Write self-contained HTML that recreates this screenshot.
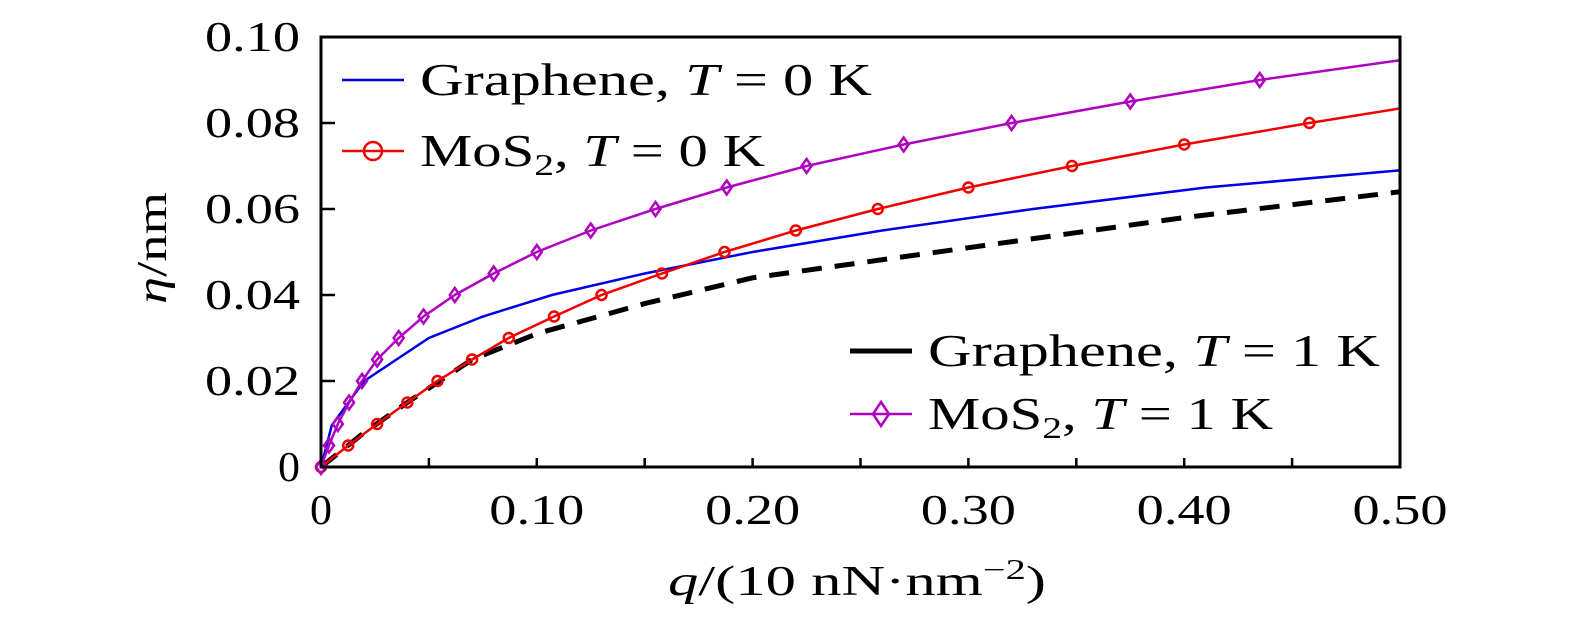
<!DOCTYPE html>
<html><head><meta charset="utf-8"><style>
html,body{margin:0;padding:0;background:#fff;}
svg text{font-family:"Liberation Serif",serif;fill:#000;}
</style></head><body>
<svg id="chart" width="1575" height="620" viewBox="0 0 1575 620" xmlns="http://www.w3.org/2000/svg">
<g id="plot"></g>
</svg>
<script>
const xTicks=[0,0.10,0.20,0.30,0.40,0.50];
const xTickLabels=["0","0.10","0.20","0.30","0.40","0.50"];
const yTicks=[0,0.02,0.04,0.06,0.08,0.10];
const yTickLabels=["0","0.02","0.04","0.06","0.08","0.10"];
const grapheneT0Q=[0,0.005,0.02,0.035,0.05,0.075,0.107,0.15,0.2,0.26,0.33,0.41,0.5];
const grapheneT0Eta=[0,0.0097,0.02,0.025,0.03,0.035,0.04,0.045,0.05,0.055,0.06,0.065,0.069];
const grapheneT1Q=[0,0.02,0.04,0.07,0.1,0.15,0.2,0.3,0.4,0.5];
const grapheneT1Eta=[0,0.008,0.015,0.025,0.031,0.038,0.044,0.051,0.058,0.064];
const mos2T0Q=[0,0.0126,0.026,0.04,0.054,0.07,0.087,0.108,0.13,0.158,0.187,0.22,0.258,0.3,0.348,0.4,0.458,0.5];
const mos2T0Eta=[0,0.005,0.01,0.015,0.02,0.025,0.03,0.035,0.04,0.045,0.05,0.055,0.06,0.065,0.07,0.075,0.08,0.0834];
const mos2T1Q=[0,0.0037,0.0078,0.013,0.019,0.026,0.036,0.0475,0.062,0.08,0.1,0.125,0.155,0.188,0.225,0.27,0.32,0.375,0.435,0.5];
const mos2T1Eta=[0,0.005,0.01,0.015,0.02,0.025,0.03,0.035,0.04,0.045,0.05,0.055,0.06,0.065,0.07,0.075,0.08,0.085,0.09,0.0946];

const NS="http://www.w3.org/2000/svg";
const X0=321,X1=1400,Y0=467,Y1=37;
const sx=v=>X0+(v/0.5)*(X1-X0);
const sy=v=>Y0-(v/0.1)*(Y0-Y1);
const g=document.getElementById('plot');
function mk(tag,at,parent){const e=document.createElementNS(NS,tag);for(const k in at)e.setAttribute(k,at[k]);(parent||g).appendChild(e);return e;}
function pathD(qs,es){return qs.map((q,i)=>(i?'L':'M')+sx(q).toFixed(1)+','+sy(es[i]).toFixed(1)).join('');}
function tlen(s){return s==='0'?22:95;}

let e;
e=mk('path',{d:pathD(grapheneT0Q,grapheneT0Eta),fill:'none',stroke:'#0000e6','stroke-width':2.5});


e=mk('path',{d:pathD(grapheneT1Q,grapheneT1Eta),fill:'none',stroke:'#000','stroke-width':5,'stroke-dasharray':'20,13'});


e=mk('path',{d:pathD(mos2T0Q,mos2T0Eta),fill:'none',stroke:'#f00000','stroke-width':2.5});


e=mk('path',{d:pathD(mos2T1Q,mos2T1Eta),fill:'none',stroke:'#b000c0','stroke-width':2.5});


for(let i=0;i<mos2T0Q.length-1;i++){
  e=mk('circle',{cx:sx(mos2T0Q[i]),cy:sy(mos2T0Eta[i]),r:5,fill:'none',stroke:'#f00000','stroke-width':2.5});
  
  
}
for(let i=0;i<mos2T1Q.length-1;i++){
  const cx=sx(mos2T1Q[i]),cy=sy(mos2T1Eta[i]);
  e=mk('path',{d:`M${cx},${cy-7}L${cx+5},${cy}L${cx},${cy+7}L${cx-5},${cy}Z`,fill:'none',stroke:'#b000c0','stroke-width':2.5});
  
  
}
e=mk('rect',{x:X0,y:Y1,width:X1-X0,height:Y0-Y1,fill:'none',stroke:'#000','stroke-width':3});


for(let v=0.05;v<0.5;v+=0.05){
  e=mk('line',{x1:sx(v),x2:sx(v),y1:Y0,y2:Y0-9,stroke:'#000','stroke-width':2.5});
  
  
}
xTicks.forEach((v,i)=>{
  e=mk('text',{x:sx(v),y:524,'font-size':42,'text-anchor':'middle',textLength:tlen(xTickLabels[i]),lengthAdjust:'spacingAndGlyphs'});e.textContent=xTickLabels[i];
  
  
});
yTicks.forEach((v,i)=>{
  if(i>0&&i<yTicks.length-1){
    e=mk('line',{x1:X0,x2:X0+14,y1:sy(v),y2:sy(v),stroke:'#000','stroke-width':2.5});
    
    
  }
  e=mk('text',{x:300,y:sy(v)+14,'font-size':42,'text-anchor':'end',textLength:tlen(yTickLabels[i]),lengthAdjust:'spacingAndGlyphs'});e.textContent=yTickLabels[i];
  
  
});
e=mk('text',{x:668,y:595,'font-size':42,textLength:378,lengthAdjust:'spacingAndGlyphs'});
e.innerHTML='<tspan font-style="italic">q</tspan>/(10 nN·nm<tspan dy="-16" font-size="28">−2</tspan><tspan dy="16">)</tspan>';


e=mk('text',{x:0,y:0,'font-size':42,'text-anchor':'middle',textLength:112,lengthAdjust:'spacingAndGlyphs',transform:'translate(166,248) rotate(-90)'});
e.innerHTML='<tspan font-style="italic">η</tspan>/nm';


function leg(y,color,marker,label,sub,rest,lx,tx,dash,len){
  const lg=mk('g',{});
  
  
  mk('line',{x1:lx,x2:lx+62,y1:y,y2:y,stroke:color,'stroke-width':dash?5:2.5},lg);
  const cx=lx+31;
  if(marker==='o')mk('circle',{cx:cx,cy:y,r:9,fill:'none',stroke:color,'stroke-width':2.5},lg);
  if(marker==='d')mk('path',{d:`M${cx},${y-12}L${cx+8},${y}L${cx},${y+12}L${cx-8},${y}Z`,fill:'none',stroke:color,'stroke-width':2.5},lg);
  const t=mk('text',{x:tx,y:y+15,'font-size':46,textLength:len,lengthAdjust:'spacingAndGlyphs'},lg);
  t.innerHTML=label+(sub?'<tspan dy="9" font-size="31">2</tspan><tspan dy="-9">, </tspan>':', ')+'<tspan font-style="italic">T</tspan> = '+rest+' K';
}
leg(80,'#0000e6','','Graphene',false,'0',342,420,false,452);
leg(151,'#f00000','o','MoS',true,'0',342,420,false,345);
leg(351,'#000','','Graphene',false,'1',850,928,true,452);
leg(414,'#b000c0','d','MoS',true,'1',850,928,false,345);
</script>
</body></html>
